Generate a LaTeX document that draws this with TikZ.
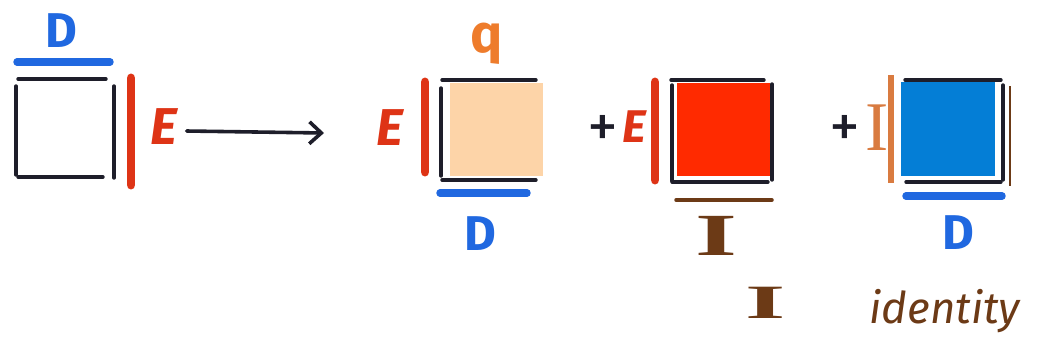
\documentclass[tikz,border=0pt]{standalone}
\usepackage{fontspec}
\setmainfont{Liberation Serif}
\setsansfont{Fira Sans}
\usetikzlibrary{arrows.meta, positioning}
\definecolor{inkblack}{RGB}{30,30,42}
\definecolor{inkblue}{RGB}{32,104,224}
\definecolor{inkred}{RGB}{222,52,22}
\definecolor{inkorange}{RGB}{238,124,44}
\definecolor{inkbrown}{RGB}{108,58,22}
\definecolor{barorange}{RGB}{217,123,64}
\definecolor{peachfill}{RGB}{253,212,168}
\definecolor{redfill}{RGB}{255,42,0}
\definecolor{bluefill}{RGB}{4,126,214}
\tikzset{
  %% ---- pen strokes ----
  frameline/.style = {line width=3.4pt, color=inkblack, line cap=round},
  penbar/.style    = {line width=#1, line cap=round},
  penbar/.default  = 7pt,
  %% ---- letters ----
  pen/.style       = {inner sep=0pt, font=\sffamily\bfseries\fontsize{#1}{#1}\selectfont},
  pen/.default     = 50,
  slant/.style     = {inner sep=0pt, font=\sffamily\bfseries\itshape\fontsize{#1}{#1}\selectfont},
  capI/.style      = {inner sep=0pt, xscale=1.8, font=\rmfamily\bfseries\fontsize{#1}{#1}\selectfont},
  plus/.style      = {inner sep=0pt, text=inkblack, font=\sffamily\fontsize{62}{62}\selectfont},
  fillbox/.style   = {rectangle, fill=#1, inner sep=0pt, draw=none,
                      minimum width=93bp, minimum height=93bp},
  %% ---- arrows ----
  arrow/.style     = {-{Straight Barb[length=12pt, width=22pt, line width=3.6pt]},
                      line width=3.6pt, color=inkblack, line cap=round},
}
\begin{document}
\begin{tikzpicture}[x=1bp, y=1bp]
\useasboundingbox[fill=white] (0,0) rectangle (1046,-351);

%% first matrix with D on top and E at the side
\node[pen=49, text=inkblue] (dtop) at (61,-31) {D};
\draw[penbar=7.5pt, inkblue] (17,-62) -- (110,-62);
\draw[frameline] (18,-79) -- (106,-79);
\draw[frameline] (16,-86) -- (16,-175);
\draw[frameline] (18,-177) -- (103,-177);
\draw[frameline] (114,-86) -- (114,-178);
\draw[penbar=9pt, inkred] (131,-78) -- (131,-185);
\node[slant=52, text=inkred] (eone) at (164,-127) {E};
\coordinate (arrend) at (324,-133);
\draw[arrow] (eone.east) ++(9,-4) -- (arrend);

%% E x q times q x D
\node[slant=52, text=inkred] (etwo) at (390,-128) {E};
\draw[penbar=9pt, inkred] (425,-82) -- (425,-172);
\draw[frameline] (442,-80) -- (536,-80);
\draw[frameline] (441,-88) -- (441,-176);
\draw[frameline] (442,-180) -- (536,-180);
\node[fillbox=peachfill] (qbox) at (496.5,-129) {};
\node[pen=54, text=inkorange] (qlab) at (487,-44) {q};
\draw[penbar=7.5pt, inkblue] (440,-193) -- (527,-193);
\node[pen=49, text=inkblue] (dtwo) at (480,-234) {D};

%% + E x I
\node[plus] (plusone) at (603,-131) {+};
\node[slant=46, text=inkred] (ethree) at (634,-127) {E};
\draw[penbar=9pt, inkred] (655,-82) -- (655,-180);
\draw[frameline] (671,-80) -- (764,-80);
\draw[frameline] (672,-85) -- (672,-181);
\draw[frameline] (772,-84) -- (772,-180);
\draw[frameline] (672,-182) -- (768,-182);
\node[fillbox=redfill] (ibox) at (723,-129.5) {};
\draw[penbar=3.5pt, inkbrown] (676,-200) -- (772,-200);
\node[capI=60, text=inkbrown] (ione) at (716,-236) {I};

%% + I x D
\node[plus] (plustwo) at (845,-131) {+};
\node[inner sep=0pt, text=barorange, font=\rmfamily\fontsize{70}{70}\selectfont] (itwo) at (877,-128) {I};
\draw[line width=6pt, barorange] (891,-75) -- (891,-183);
\draw[frameline] (905,-80) -- (1001,-80);
\draw[frameline] (1003,-85) -- (1003,-180);
\draw[frameline] (906,-182) -- (1001,-182);
\node[fillbox=bluefill, minimum width=94bp, minimum height=94bp] (dbox) at (948,-129) {};
\draw[line width=1.5pt, inkbrown] (1010,-86) -- (1010,-186);
\draw[penbar=7.5pt, inkblue] (906,-196) -- (1002,-196);
\node[pen=49, text=inkblue] (dthree) at (958,-233) {D};

%% legend at the bottom
\node[capI=48, xscale=1.2, text=inkbrown] (ileg) at (766,-303) {I};
\node[inner sep=0pt, text=inkbrown, font=\sffamily\itshape\fontsize{44}{44}\selectfont] (idleg) at (945,-311) {identity};
\end{tikzpicture}
\end{document}
